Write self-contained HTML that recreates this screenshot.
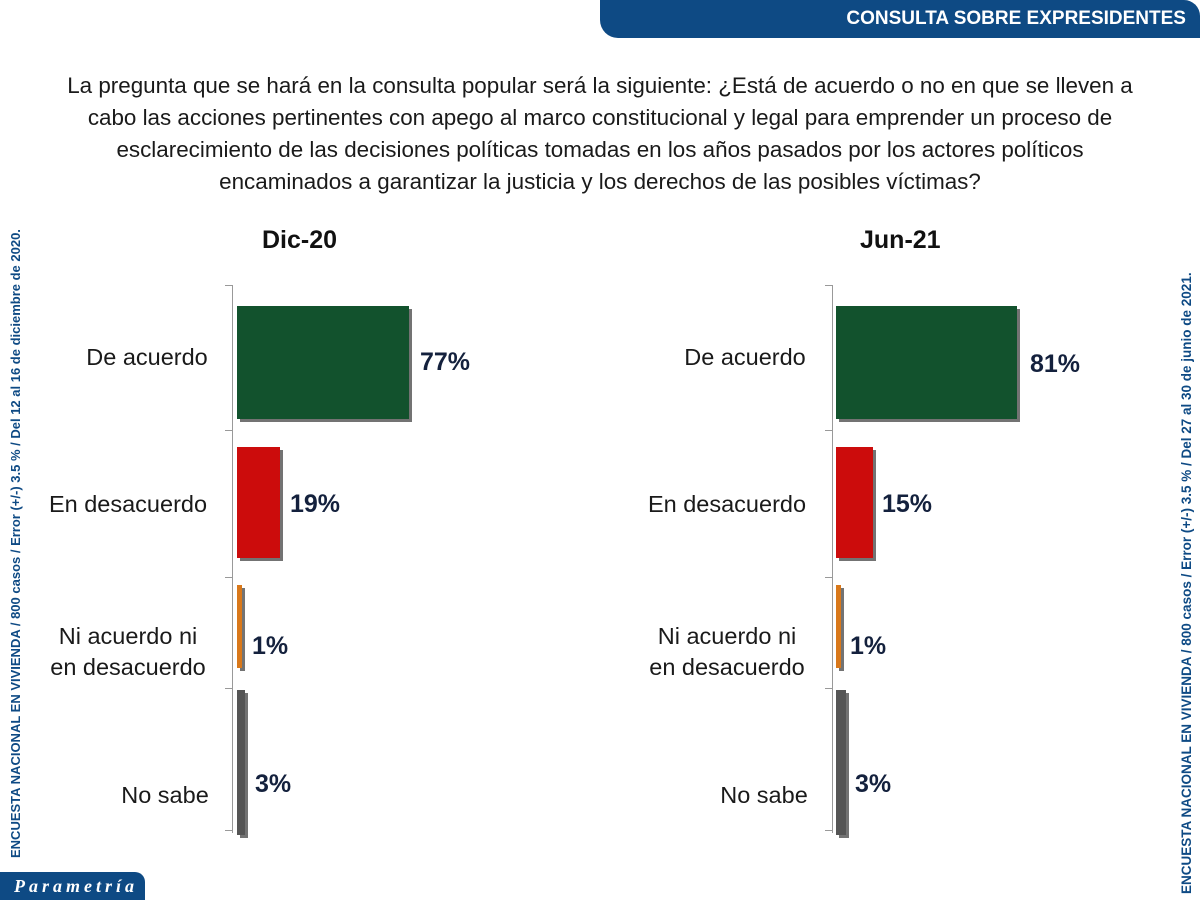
<!DOCTYPE html>
<html><head><meta charset="utf-8"><style>
body{margin:0;width:1200px;height:900px;background:#fff;position:relative;overflow:hidden;font-family:"Liberation Sans",sans-serif;}
.a{position:absolute}
.hdr{left:600px;top:0;width:600px;height:38px;background:#0e4a84;border-radius:0 16px 0 18px;color:#fff;font-weight:bold;font-size:19px;text-align:right;box-sizing:border-box;padding:8px 14px 0 0}
.q{left:0;top:70px;width:1200px;text-align:center;font-size:22.4px;line-height:32px;color:#1a1a1a;white-space:nowrap}
.t{font-size:25px;font-weight:bold;color:#111}
.lab{font-size:23.5px;color:#1a1a1a;text-align:center;width:200px}
.pct{font-size:25px;font-weight:bold;color:#14213d}
.ax{width:1px;background:#999}
.tick{height:1px;width:8px;background:#999}
.bar{box-shadow:3px 3px 0 rgba(0,0,0,.55)}
.vt{font-size:13.5px;font-weight:bold;color:#0e4a84;white-space:nowrap;transform-origin:0 0}
.ft{left:0;top:872px;width:145px;height:28px;background:#0e4a84;border-radius:0 10px 0 0;color:#fff;font-family:"Liberation Serif",serif;font-style:italic;font-weight:bold;font-size:18px;letter-spacing:4px;padding-left:14px;box-sizing:border-box;line-height:28px}
</style></head><body>
<div class="a hdr">CONSULTA SOBRE EXPRESIDENTES</div>
<div class="a q">La pregunta que se hará en la consulta popular será la siguiente: ¿Está de acuerdo o no en que se lleven a<br>cabo las acciones pertinentes con apego al marco constitucional y legal para emprender un proceso de<br>esclarecimiento de las decisiones políticas tomadas en los años pasados por los actores políticos<br>encaminados a garantizar la justicia y los derechos de las posibles víctimas?</div>

<div class="a t" style="left:262px;top:226px">Dic-20</div>
<div class="a t" style="left:860px;top:226px">Jun-21</div>

<div class="a ax" style="left:232px;top:285px;height:548px"></div>
<div class="a tick" style="left:225px;top:285px"></div>
<div class="a tick" style="left:225px;top:430px"></div>
<div class="a tick" style="left:225px;top:577px"></div>
<div class="a tick" style="left:225px;top:688px"></div>
<div class="a tick" style="left:225px;top:830px"></div>
<div class="a bar" style="left:237px;top:306px;width:172px;height:113px;background:#12522d"></div>
<div class="a bar" style="left:237px;top:447px;width:43px;height:111px;background:#cc0c0c"></div>
<div class="a bar" style="left:237px;top:585px;width:5px;height:83px;background:#d9781a"></div>
<div class="a bar" style="left:237px;top:690px;width:8px;height:145px;background:#555"></div>
<div class="a pct" style="left:420px;top:348px">77%</div>
<div class="a pct" style="left:290px;top:490px">19%</div>
<div class="a pct" style="left:252px;top:632px">1%</div>
<div class="a pct" style="left:255px;top:770px">3%</div>
<div class="a lab" style="left:47px;top:344px;">De acuerdo</div>
<div class="a lab" style="left:28px;top:491px">En desacuerdo</div>
<div class="a lab" style="left:28px;top:621px;line-height:31px">Ni acuerdo ni<br>en desacuerdo</div>
<div class="a lab" style="left:65px;top:782px">No sabe</div>

<div class="a ax" style="left:832px;top:285px;height:548px"></div>
<div class="a tick" style="left:825px;top:285px"></div>
<div class="a tick" style="left:825px;top:430px"></div>
<div class="a tick" style="left:825px;top:577px"></div>
<div class="a tick" style="left:825px;top:688px"></div>
<div class="a tick" style="left:825px;top:830px"></div>
<div class="a bar" style="left:836px;top:306px;width:181px;height:113px;background:#12522d"></div>
<div class="a bar" style="left:836px;top:447px;width:37px;height:111px;background:#cc0c0c"></div>
<div class="a bar" style="left:836px;top:585px;width:5px;height:83px;background:#d9781a"></div>
<div class="a bar" style="left:836px;top:690px;width:10px;height:145px;background:#555"></div>
<div class="a pct" style="left:1030px;top:350px">81%</div>
<div class="a pct" style="left:882px;top:490px">15%</div>
<div class="a pct" style="left:850px;top:632px">1%</div>
<div class="a pct" style="left:855px;top:770px">3%</div>
<div class="a lab" style="left:645px;top:344px">De acuerdo</div>
<div class="a lab" style="left:627px;top:491px">En desacuerdo</div>
<div class="a lab" style="left:627px;top:621px;line-height:31px">Ni acuerdo ni<br>en desacuerdo</div>
<div class="a lab" style="left:664px;top:782px">No sabe</div>

<div class="a vt" style="left:8px;top:858px;transform:rotate(-90deg);font-size:13px">ENCUESTA NACIONAL EN VIVIENDA / 800 casos / Error (+/-) 3.5 % / Del 12 al 16 de diciembre de 2020.</div>
<div class="a vt" style="left:1179px;top:894px;transform:rotate(-90deg)">ENCUESTA NACIONAL EN VIVIENDA / 800 casos / Error (+/-) 3.5 % / Del 27 al 30 de junio de 2021.</div>
<div class="a ft">Parametría</div>
</body></html>
